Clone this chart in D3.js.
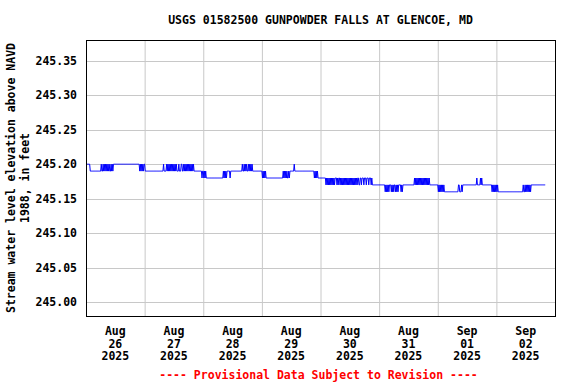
<!DOCTYPE html>
<html><head><meta charset="utf-8">
<script src="https://cdn.jsdelivr.net/npm/d3@7/dist/d3.min.js"></script>
<style>
body{margin:0;background:#fff}
svg text{font-family:"DejaVu Sans Mono",monospace;font-weight:bold;font-size:11.5px}
</style>
</head><body>
<svg id="chart" width="576" height="384"></svg>
<script>
// ---------------- data ----------------
const title = "USGS 01582500 GUNPOWDER FALLS AT GLENCOE, MD";
const yLabelLines = ["Stream water level elevation above NAVD", "1988, in feet"];
const footer = "---- Provisional Data Subject to Revision ----";
const yTicks = [245.00, 245.05, 245.10, 245.15, 245.20, 245.25, 245.30, 245.35];
const dayStarts = ["2025-08-26","2025-08-27","2025-08-28","2025-08-29","2025-08-30","2025-08-31","2025-09-01","2025-09-02"];
const dayLabels = [["Aug","26","2025"],["Aug","27","2025"],["Aug","28","2025"],["Aug","29","2025"],
                   ["Aug","30","2025"],["Aug","31","2025"],["Sep","01","2025"],["Sep","02","2025"]];
const domainEnd = "2025-09-03";
// 15-minute readings, one string per day; code digit d means 245.16 + d*0.01 ft
const levelBase = 245.16, levelStep = 0.01, readingMinutes = 15;
const dayCodes = [
  // Aug 26
  "4444444" + "333333333333333333" + "433434343434343343434" +
  "444444444444444444444444444444444444444444" + "34343434",
  // Aug 27
  "43" + "33333333333333333333333333333" +
  "4" + "3333" + "434343434343434" + "3" + "4" + "333" + "4" + "333" + "44" + "33" + "434343434343434" + "3" + "4" +
  "3333333333333" + "23",
  // Aug 28
  "323232" + "222222222222222222222222222" + "32323233" + "333" + "2" + "333333333333333333" +
  "3" + "4" + "33" + "43434" + "33" + "43434343" + "33333333333333",
  // Aug 29
  "32323232" + "222222222222222222222222222" + "323232322323" + "333333" + "4" +
  "33333333333333333333333333333333" + "2323232" + "222",
  // Aug 30
  "222222222" + "1212121212121212" + "22" + "1212" + "2" + "1212121212121212121212121212" +
  "12211221222122212221222121" + "1111111111",
  // Aug 31
  "1111111111" + "01010101" + "11" + "0101011010101" + "111" + "0101" + "111111111111111111" +
  "21212121212121212121212121" + "111111111111",
  // Sep 01
  "1" + "01010101010" + "0000000000000000000000" + "110001011" + "111111111111111111111" +
  "2" + "11111" + "2" + "1" + "2" + "1111111111111111" + "0101010",
  // Sep 02
  "1010" + "0000000000000000000000000000000000000000" + "10010101010101" + "11111111111111111111111"
];

// ---------------- decode readings ----------------
const parse = d3.utcParse("%Y-%m-%d");
const readings = [];
dayCodes.forEach((codes, di) => {
  const t0 = parse(dayStarts[di]).getTime();
  for (let i = 0; i < codes.length; i++) {
    readings.push({t: new Date(t0 + i * readingMinutes * 60000), v: levelBase + (+codes[i]) * levelStep});
  }
});

// ---------------- layout ----------------
const L = 86, R = 555, T = 40, B = 316;
const svg = d3.select("#chart");
const x = d3.scaleUtc().domain([parse(dayStarts[0]), parse(domainEnd)]).range([L, R]);
const y = d3.scaleLinear().domain([244.98, 245.38]).range([B, T]);

// gridlines
const dayBounds = dayStarts.slice(1).map(parse);
svg.append("g").selectAll("line").data(dayBounds).join("line")
  .attr("x1", d => x(d) + 0.5).attr("x2", d => x(d) + 0.5)
  .attr("y1", T).attr("y2", B).attr("stroke", "#c8c8c8").attr("stroke-width", 1);
svg.append("g").selectAll("line").data(yTicks).join("line")
  .attr("x1", L).attr("x2", R)
  .attr("y1", d => Math.round(y(d)) + 0.5).attr("y2", d => Math.round(y(d)) + 0.5)
  .attr("stroke", "#c8c8c8").attr("stroke-width", 1);

// data line
svg.append("path").datum(readings)
  .attr("fill", "none").attr("stroke", "#0000ff").attr("stroke-width", 1)
  .attr("d", d3.line().x(d => x(d.t)).y(d => y(d.v)));

// frame
svg.append("rect").attr("x", L + 0.5).attr("y", T + 0.5).attr("width", R - L).attr("height", B - T)
  .attr("fill", "none").attr("stroke", "#000").attr("stroke-width", 1);

// y axis labels
const yAxis = d3.axisLeft(y).tickValues(yTicks).tickFormat(d3.format(".2f")).tickSize(0).tickPadding(9);
const gy = svg.append("g").attr("transform", `translate(${L},0)`).call(yAxis);
gy.select(".domain").remove();
gy.selectAll("text").attr("font-family", null).attr("font-size", null).attr("fill", "#000");

// x axis labels (noon of each day)
const noon = dayStarts.map(s => new Date(parse(s).getTime() + 12 * 3600000));
const xl = svg.append("g").selectAll("text").data(noon).join("text")
  .attr("text-anchor", "middle").attr("fill", "#000");
xl.each(function(d, i) {
  const t = d3.select(this);
  dayLabels[i].forEach((s, k) => {
    t.append("tspan").attr("x", x(d)).attr("y", 335 + k * 12.5).text(s);
  });
});

// title
svg.append("text").attr("x", (L + R) / 2).attr("y", 24).attr("text-anchor", "middle").text(title);

// y label
yLabelLines.forEach((s, k) => {
  svg.append("text").attr("transform", `translate(${15 + k * 13.5},${(T + B) / 2}) rotate(-90)`)
    .attr("text-anchor", "middle").text(s);
});

// footer
svg.append("text").attr("x", (L + R) / 2 - 2).attr("y", 379).attr("text-anchor", "middle")
  .attr("fill", "#ff0000").text(footer);
</script>
</body></html>
